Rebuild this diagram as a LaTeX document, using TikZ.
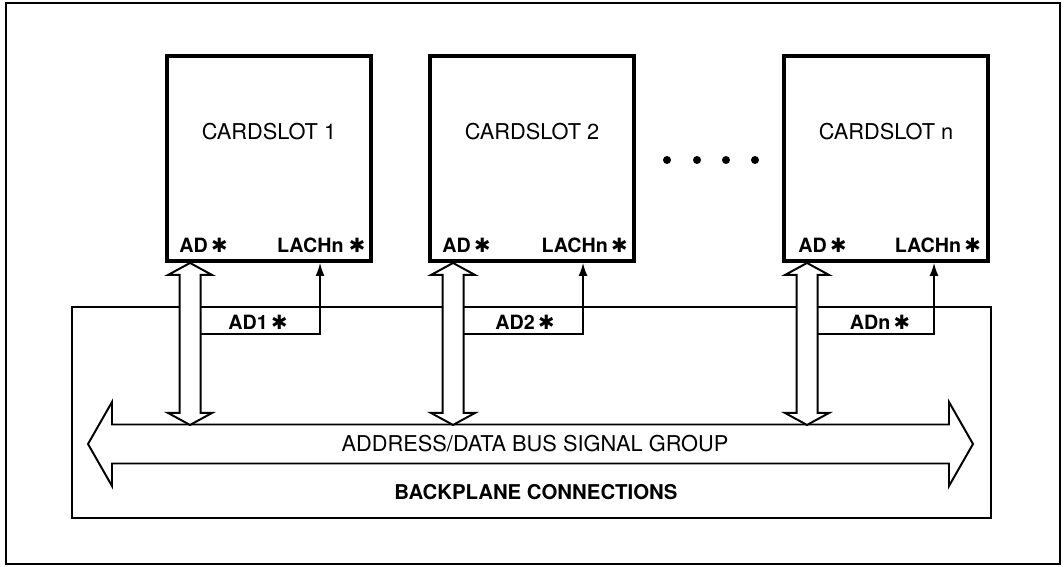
\documentclass[tikz,border=0pt]{standalone}
\usepackage{fontspec}
\setmainfont{TeX Gyre Heros}
\newfontfamily\symfont{DejaVu Sans}
\usepackage{tikz}
\usetikzlibrary{positioning, arrows.meta, calc}
\newcommand{\sigstar}{{\symfont\bfseries ✱}}
\tikzset{
    slotbox/.style={draw, line width=2.8pt, minimum width=5.1cm, minimum height=5.125cm},
    slotname/.style={font=\fontsize{15.5}{18}\selectfont},
    pinlbl/.style={font=\fontsize{14}{16}\selectfont\bfseries, inner sep=0pt},
    siglbl/.style={font=\fontsize{14}{16}\selectfont\bfseries, inner sep=1pt},
    sigarrow/.style={-{Latex[length=3.2mm, width=2.2mm]}, line width=1pt},
    busline/.style={draw, line width=1.4pt, fill=white, line join=miter},
    widelink/.pic={
        \draw[busline] (0,0) -- (0.55,-0.3) -- (0.2625,-0.3) -- (0.2625,-3.75) -- (0.55,-3.75)
            -- (0,-4.05) -- (-0.55,-3.75) -- (-0.2625,-3.75) -- (-0.2625,-0.3) -- (-0.55,-0.3) -- cycle;
    },
}

\begin{document}
\begin{tikzpicture}
        \useasboundingbox (0,0) rectangle (26.6,14.175);
        \draw[line width=1.8pt] (0.15,0.08) rectangle (26.5,14.1);
        % Backplane
        \draw[line width=1.2pt] (1.8,1.225) rectangle (24.775,6.5);
        \draw[busline] (2.2,3.075) -- (2.8,4.125) -- (2.8,3.5625) -- (23.725,3.5625) -- (23.725,4.125)
            -- (24.325,3.075) -- (23.725,2.025) -- (23.725,2.5875) -- (2.8,2.5875) -- (2.8,2.025) -- cycle;
        \node[font=\fontsize{15.5}{18}\selectfont] (bus) at (13.375,3.075) {ADDRESS/DATA BUS SIGNAL GROUP};
        \node[font=\fontsize{14.5}{17}\selectfont\bfseries] (bp) at (13.4,1.875) {BACKPLANE CONNECTIONS};
        % Cardslots
        \node[slotbox] (slot1) at (6.725,10.2125) {};
        \node[slotbox] (slot2) at (13.3,10.2125)  {};
        \node[slotbox] (slotn) at (22.15,10.2125) {};
        \node[slotname] (name1) at ([yshift=0.68cm]slot1.center) {CARDSLOT 1};
        \node[slotname] (name2) at ([yshift=0.68cm]slot2.center) {CARDSLOT 2};
        \node[slotname] (namen) at ([yshift=0.68cm]slotn.center) {CARDSLOT n};
        \fill (16.675,10.175) circle (0.1) (17.425,10.175) circle (0.1)
              (18.15,10.175) circle (0.1) (18.875,10.175) circle (0.1);
        % Pins
        \node[pinlbl, anchor=base west] (ad1) at ($(slot1.south west)+(0.35,0.25)$) {AD\,\sigstar};
        \node[pinlbl, anchor=base east] (lach1) at ($(slot1.south east)+(-0.18,0.25)$) {LACHn \sigstar};
        \node[pinlbl, anchor=base west] (ad2) at ($(slot2.south west)+(0.35,0.25)$) {AD\,\sigstar};
        \node[pinlbl, anchor=base east] (lach2) at ($(slot2.south east)+(-0.2,0.25)$) {LACHn\,\sigstar};
        \node[pinlbl, anchor=base west] (adn) at ($(slotn.south west)+(0.4,0.25)$) {AD\,\sigstar};
        \node[pinlbl, anchor=base east] (lachn) at ($(slotn.south east)+(-0.22,0.25)$) {LACHn\,\sigstar};
        \coordinate (link1) at ($(slot1.south west)+(0.625,0)$);
        \coordinate (link2) at ($(slot2.south west)+(0.625,0)$);
        \coordinate (linkn) at ($(slotn.south west)+(0.625,0)$);
        \coordinate (latch1) at ($(slot1.south west)+(3.875,0)$);
        \coordinate (latch2) at ($(slot2.south west)+(3.875,0)$);
        \coordinate (latchn) at ($(slotn.south west)+(3.8,0)$);
        % Bus links
        \pic at (link1) {widelink};
        \pic at (link2) {widelink};
        \pic at (linkn) {widelink};
        % Latch strobes
        \draw[sigarrow] ($(link1)+(0.2625,-1.775)$) -| (latch1);
        \draw[sigarrow] ($(link2)+(0.2625,-1.775)$) -| (latch2);
        \draw[sigarrow] ($(linkn)+(0.2625,-1.775)$) -| (latchn);
        \node[siglbl] (sig1) at (6.45,6.125)  {AD1\,\sigstar};
        \node[siglbl] (sig2) at (13.125,6.125) {AD2\,\sigstar};
        \node[siglbl] (sign) at (22.0,6.125)  {ADn\,\sigstar};
    \end{tikzpicture}
\end{document}
